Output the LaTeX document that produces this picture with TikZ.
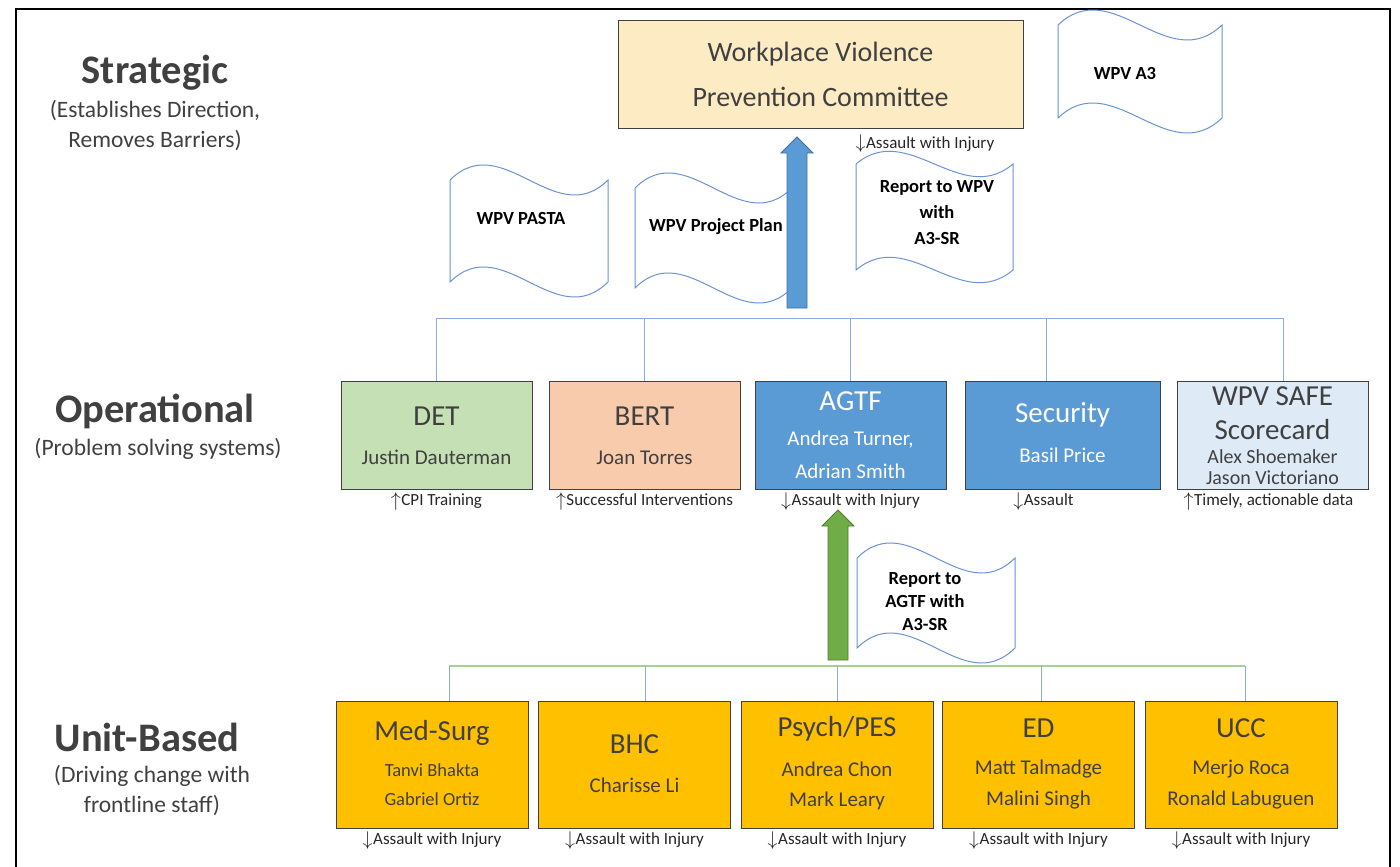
\documentclass[tikz,border=0pt]{standalone}
\usepackage{fontspec}
\setmainfont{Carlito}
\usetikzlibrary{positioning, calc}

\definecolor{txtgray}{HTML}{404040}
\definecolor{boxline}{HTML}{404040}
\definecolor{docblue}{HTML}{6A93D4}
\definecolor{linkblue}{HTML}{8FAADC}
\definecolor{linkgreen}{HTML}{A9D18E}
\definecolor{cmtefill}{HTML}{FDEBC3}
\definecolor{detgreen}{HTML}{C5E0B4}
\definecolor{bertpeach}{HTML}{F8CBAD}
\definecolor{agtfblue}{HTML}{5B9BD5}
\definecolor{safeblue}{HTML}{DEEBF7}
\definecolor{unitgold}{HTML}{FFC000}
\definecolor{arrowblue}{HTML}{5B9BD5}
\definecolor{arrowblueline}{HTML}{41719C}
\definecolor{arrowgreen}{HTML}{70AD47}
\definecolor{arrowgreenline}{HTML}{507E32}

% fat block arrow pointing up: #1 style, #2 foot, #3 tip
\newcommand{\blockup}[3]{%
  \draw[#1] ($(#2)+(-10,0)$) -- ($(#3)+(-10,16)$) -- ($(#3)+(-16,16)$) -- (#3)
    -- ($(#3)+(16,16)$) -- ($(#3)+(10,16)$) -- ($(#2)+(10,0)$) -- cycle;}
\newcommand{\upto}{\raisebox{-0.5pt}{\scalebox{1.15}{$\uparrow$}}\kern0.5pt}
\newcommand{\downto}{\raisebox{-0.5pt}{\scalebox{1.15}{$\downarrow$}}\kern0.5pt}

\begin{document}
\begin{tikzpicture}[
    x=1pt, y=-1pt,
    level title/.style={font=\bfseries\fontsize{40.5}{44}\selectfont, text=txtgray, inner sep=0},
    level note/.style={font=\fontsize{23.5}{30}\selectfont, text=txtgray, align=center, inner sep=0},
    opbox/.style={draw=boxline, line width=1pt, minimum width=191, minimum height=108, inner sep=0},
    unitbox/.style={draw=boxline, line width=1pt, fill=unitgold, minimum width=192, minimum height=127, inner sep=0},
    boxhead/.style={font=\fontsize{29}{32}\selectfont, text=txtgray, inner sep=0},
    boxname/.style={font=\fontsize{21}{24}\selectfont, text=txtgray, inner sep=0},
    gainnote/.style={font=\fontsize{17}{20}\selectfont, text=black!85, inner sep=0.5pt},
    docshape/.style={draw=docblue, line width=1pt, fill=white},
    doclabel/.style={font=\bfseries\fontsize{18.5}{26}\selectfont, align=center, inner sep=0},
    oplink/.style={draw=linkblue, line width=1pt},
    unitlink/.style={draw=linkgreen, line width=1.2pt},
    fatblue/.style={fill=arrowblue, draw=arrowblueline, line width=0.8pt},
    fatgreen/.style={fill=arrowgreen, draw=arrowgreenline, line width=0.8pt}
  ]
  \useasboundingbox (0,0) rectangle (1400,867);
  \draw[line width=2pt] (16,867) -- (16,9) -- (1390,9) -- (1390,867);

  % tier titles
  \node[level title] (strat) at (155,73) {Strategic};
  \node[level note] (stratnote) at (155,126) {(Establishes Direction,\\Removes Barriers)};
  \node[level title] (oper) at (155,411) {Operational};
  \node[level note] (opernote) at (158,449) {(Problem solving systems)};
  \node[level title] (unit) at (147,737) {Unit-Based};
  \node[level note] (unitnote) at (152,791) {(Driving change with\\frontline staff)};

  % committee
  \node[draw=boxline, line width=1pt, fill=cmtefill, minimum width=405, minimum height=107,
        font=\fontsize{28}{45}\selectfont, text=txtgray, align=center] (cmte) at (820.5,74.5)
        {Workplace Violence\\Prevention Committee};

  % document waves
  \foreach \x/\yt/\w/\h/\c in {1058/25/164/93/52, 450/180/158/102/52, 635/188/157/100/52, 856/164/157/106/44, 857/558/158/90/52}
    \draw[docshape] (\x,\yt) .. controls +(\w/3,-\c) and +(-\w/3,\c) .. (\x+\w,\yt)
      -- (\x+\w,\yt+\h) .. controls +(-\w/3,\c) and +(\w/3,-\c) .. (\x,\yt+\h) -- cycle;
  \node[doclabel] (a3txt) at (1125,73) {WPV A3};
  \node[doclabel] (pastatxt) at (521,218) {WPV PASTA};
  \node[doclabel] (plantxt) at (716,227) {WPV Project Plan};
  \node[doclabel] (wpvreptxt) at (937,213) {Report to WPV\\with\\A3-SR};
  \node[doclabel, font=\bfseries\fontsize{18.5}{23}\selectfont] (agtfreptxt) at (925,602) {Report to\\AGTF with\\A3-SR};

  % operational tier
  \foreach \nm/\cx/\fc in {det/436.5/detgreen, bert/644.5/bertpeach, agtf/850.5/agtfblue, safe/1272.5/safeblue}
    \node[opbox, fill=\fc] (\nm) at (\cx,435) {};
  \node[opbox, fill=agtfblue, minimum width=195] (sec) at (1062.5,435) {};

  \node[boxhead] (dethead) at ($(det.north)+(0,36)$) {DET};
  \node[boxname] (detname) at ($(det.north)+(0,77)$) {Justin Dauterman};
  \node[boxhead] (berthead) at ($(bert.north)+(0,36)$) {BERT};
  \node[boxname] (bertname) at ($(bert.north)+(0,77)$) {Joan Torres};
  \node[boxhead, text=white] (agtfhead) at ($(agtf.north)+(0,21)$) {AGTF};
  \node[boxname, text=white] (agtfname1) at ($(agtf.north)+(0,59)$) {Andrea Turner,};
  \node[boxname, text=white] (agtfname2) at ($(agtf.north)+(0,91)$) {Adrian Smith};
  \node[boxhead, text=white] (sechead) at ($(sec.north)+(0,34)$) {Security};
  \node[boxname, text=white] (secname) at ($(sec.north)+(0,75)$) {Basil Price};
  \node[boxhead] (safehead1) at ($(safe.north)+(0,16)$) {WPV SAFE};
  \node[boxhead] (safehead2) at ($(safe.north)+(0,49)$) {Scorecard};
  \node[boxname, font=\fontsize{20}{22}\selectfont] (safename1) at ($(safe.north)+(0,76)$) {Alex Shoemaker};
  \node[boxname, font=\fontsize{20}{22}\selectfont] (safename2) at ($(safe.north)+(0,97)$) {Jason Victoriano};

  \node[gainnote, below=2pt of det] (detnote) {\upto CPI Training};
  \node[gainnote, below=2pt of bert] (bertnote) {\upto Successful Interventions};
  \node[gainnote, below=2pt of agtf] (agtfnote) {\downto Assault with Injury};
  \node[gainnote, below=2pt of sec.south, xshift=-19] (secnote) {\downto Assault};
  \node[gainnote, below=2pt of safe.south, xshift=-4] (safenote) {\upto Timely, actionable data};

  \coordinate (opbarL) at (437,318);
  \coordinate (opbarR) at (1283,318);
  \draw[oplink] (opbarL) -- (opbarR);
  \foreach \nm/\dx in {det/0, bert/0, agtf/0, sec/-16, safe/10.5}
    \draw[oplink] ([xshift=\dx]\nm.north |- opbarL) -- ([xshift=\dx]\nm.north);

  % unit tier
  \foreach \nm/\cx in {medsurg/432, bhc/634.5, psych/837, ed/1038.5, ucc/1241}
    \node[unitbox] (\nm) at (\cx,764.5) {};

  \node[boxhead] (medsurghead) at ($(medsurg.north)+(0,32)$) {Med-Surg};
  \node[boxname, font=\fontsize{18.5}{20}\selectfont] (medsurgname1) at ($(medsurg.north)+(0,70)$) {Tanvi Bhakta};
  \node[boxname, font=\fontsize{18.5}{20}\selectfont] (medsurgname2) at ($(medsurg.north)+(0,99)$) {Gabriel Ortiz};
  \node[boxhead] (bhchead) at ($(bhc.north)+(0,44)$) {BHC};
  \node[boxname] (bhcname) at ($(bhc.north)+(0,85)$) {Charisse Li};
  \node[boxhead] (psychhead) at ($(psych.north)+(0,28)$) {Psych/PES};
  \node[boxname] (psychname1) at ($(psych.north)+(0,69)$) {Andrea Chon};
  \node[boxname] (psychname2) at ($(psych.north)+(0,100)$) {Mark Leary};
  \node[boxhead] (edhead) at ($(ed.north)+(0,28)$) {ED};
  \node[boxname] (edname1) at ($(ed.north)+(0,69)$) {Matt Talmadge};
  \node[boxname] (edname2) at ($(ed.north)+(0,100)$) {Malini Singh};
  \node[boxhead] (ucchead) at ($(ucc.north)+(0,28)$) {UCC};
  \node[boxname] (uccname1) at ($(ucc.north)+(0,69)$) {Merjo Roca};
  \node[boxname] (uccname2) at ($(ucc.north)+(0,100)$) {Ronald Labuguen};

  \foreach \nm in {medsurg, bhc, psych, ed, ucc}
    \node[gainnote, below=2pt of \nm] (\nm note) {\downto Assault with Injury};

  \coordinate (unitbarL) at (449,666);
  \coordinate (unitbarR) at (1245,666);
  \draw[unitlink] (unitbarL) -- (unitbarR);
  \foreach \nm/\dx in {medsurg/17, bhc/10.5, psych/0, ed/2.5, ucc/4}
    \draw[oplink] ([xshift=\dx]\nm.north |- unitbarL) -- ([xshift=\dx]\nm.north);

  % escalation arrows
  \coordinate (bluefoot) at (797,308);
  \coordinate (bluetip) at (797,137);
  \blockup{fatblue}{bluefoot}{bluetip}
  \node[gainnote, anchor=west] (cmtenote) at (855,144) {\downto Assault with Injury};
  \coordinate (greenfoot) at (838,660);
  \coordinate (greentip) at (838,510);
  \blockup{fatgreen}{greenfoot}{greentip}
\end{tikzpicture}
\end{document}
